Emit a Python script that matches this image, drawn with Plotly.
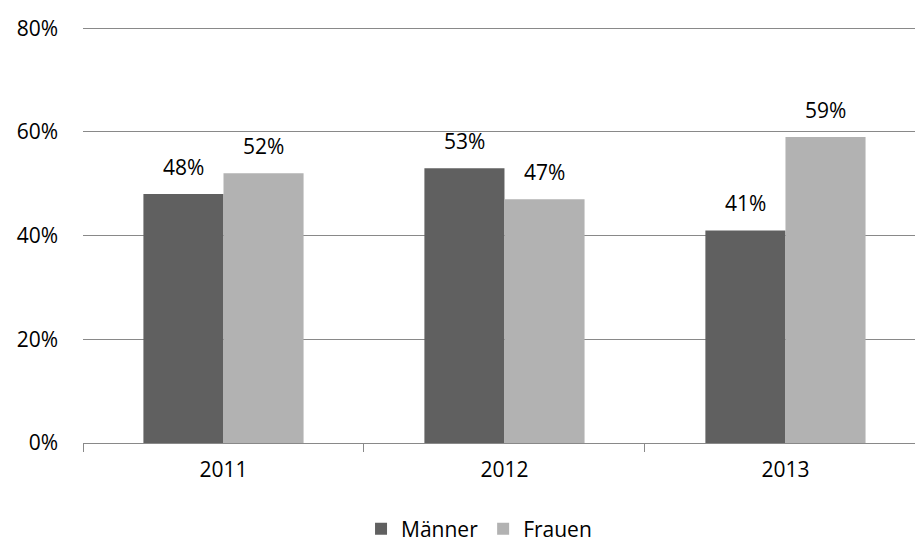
import plotly.graph_objects as go

years = ["2011", "2012", "2013"]
maenner = [0.48, 0.53, 0.41]
frauen = [0.52, 0.47, 0.59]
series_names = ["Männer", "Frauen"]
y_ticks = [0, 0.2, 0.4, 0.6, 0.8]
y_tick_labels = ["0%", "20%", "40%", "60%", "80%"]

dark = "#606060"
light = "#b2b2b2"
grid = "#898989"
font_family = "Open Sans, Liberation Sans, sans-serif"

fig = go.Figure()
fig.add_trace(go.Bar(x=years, y=maenner, name=series_names[0], marker=dict(color=dark, line=dict(width=0))))
fig.add_trace(go.Bar(x=years, y=frauen, name=series_names[1], marker=dict(color=light, line=dict(width=0))))

# value labels above each bar (category index positions, offset to each bar's centre)
for vals, shift in ((maenner, -40), (frauen, 40)):
    for i, v in enumerate(vals):
        fig.add_annotation(x=i, y=v, xref="x", yref="y", text=f"{round(v * 100)}%",
                           showarrow=False, xshift=shift, yshift=27, yanchor="middle",
                           font=dict(size=21, color="#000000", family=font_family))

fig.update_layout(
    width=915, height=543,
    margin=dict(l=83, r=0, t=23, b=100, autoexpand=False),
    paper_bgcolor="white", plot_bgcolor="white",
    barmode="group", bargap=0.43, bargroupgap=0,
    font=dict(family=font_family, size=21, color="#000000"),
    showlegend=True,
    legend=dict(orientation="h", x=0.476, xanchor="center", y=-0.205, yanchor="middle",
                font=dict(size=21), traceorder="normal"),
    xaxis=dict(type="category", range=[-0.5, 2.461], tickson="boundaries",
               ticks="outside", ticklen=8, tickcolor=grid, tickwidth=1,
               showline=True, linecolor=grid, linewidth=1, showgrid=False,
               ticklabelstandoff=8),
    yaxis=dict(range=[0, 0.81], tickvals=y_ticks, ticktext=y_tick_labels,
               showgrid=True, gridcolor=grid, gridwidth=1, zeroline=False,
               showline=False, ticks="", ticklabelstandoff=24),
)

fig.write_html("out.html")
